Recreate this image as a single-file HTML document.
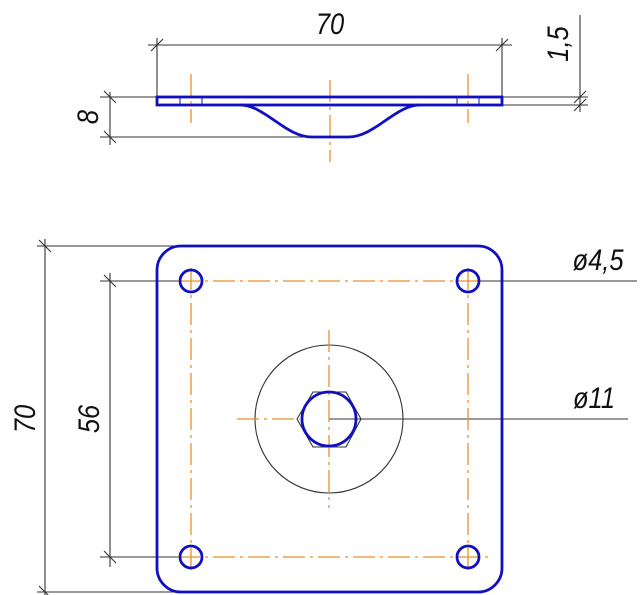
<!DOCTYPE html>
<html><head><meta charset="utf-8"><style>html,body{margin:0;padding:0;background:#fff}svg{display:block}text{font-family:"Liberation Sans",sans-serif;font-style:italic;font-size:30px;fill:#111}</style></head>
<body>
<svg width="640" height="595" viewBox="0 0 640 595" xmlns="http://www.w3.org/2000/svg">
<g stroke="#333" stroke-width="1.1" fill="none">
 <line x1="148" y1="45" x2="512" y2="45"/>
 <line x1="157" y1="38" x2="157" y2="97"/>
 <line x1="502" y1="38" x2="502" y2="97"/>
 <line x1="151" y1="51" x2="163" y2="39"/><line x1="496" y1="51" x2="508" y2="39"/>
 <line x1="580" y1="15" x2="580" y2="112"/>
 <line x1="503" y1="97" x2="588" y2="97"/><line x1="503" y1="105" x2="588" y2="105"/>
 <line x1="574" y1="103" x2="586" y2="91"/><line x1="574" y1="111" x2="586" y2="99"/>
 <line x1="110" y1="92" x2="110" y2="145"/>
 <line x1="100" y1="97" x2="157" y2="97"/><line x1="100" y1="137" x2="330" y2="137"/>
 <line x1="104" y1="91" x2="116" y2="103"/><line x1="104" y1="131" x2="116" y2="143"/>
 <line x1="45" y1="239" x2="45" y2="595"/>
 <line x1="37" y1="246" x2="185" y2="246"/><line x1="37" y1="592" x2="185" y2="592"/>
 <line x1="39" y1="240" x2="51" y2="252"/><line x1="39" y1="586" x2="51" y2="598"/>
 <line x1="110" y1="273" x2="110" y2="567"/>
 <line x1="100" y1="281" x2="180" y2="281"/><line x1="100" y1="557" x2="180" y2="557"/>
 <line x1="104" y1="275" x2="116" y2="287"/><line x1="104" y1="551" x2="116" y2="563"/>
 <line x1="479" y1="281" x2="637" y2="281"/>
 <line x1="329" y1="419" x2="628" y2="419"/>
 <circle cx="329" cy="419" r="74"/>
 <polygon points="297,419 313,392 346,392 361,419 346,447 313,447"/>
</g>
<g stroke="#e8922a" stroke-width="1.3" fill="none" stroke-dasharray="22,5,3,5">
 <line x1="191" y1="74" x2="191" y2="123"/><line x1="468" y1="74" x2="468" y2="123"/>
 <line x1="330" y1="80" x2="330" y2="162"/>
 <line x1="191" y1="268" x2="191" y2="575"/><line x1="468" y1="268" x2="468" y2="575"/>
 <line x1="178" y1="281" x2="482" y2="281"/><line x1="178" y1="557" x2="488" y2="557"/>
 <line x1="329" y1="330" x2="329" y2="508"/><line x1="237" y1="419" x2="300" y2="419"/>
</g>
<g stroke="#1010c0" stroke-width="2.8" fill="none">
 <rect x="157" y="97" width="345" height="8"/>
 <path d="M240 105 C265 105 285 137 312 137 L348 137 C375 137 395 105 420 105"/>
 <rect x="157" y="246" width="345" height="346" rx="24"/>
 <circle cx="191" cy="281" r="11"/><circle cx="468" cy="281" r="11"/>
 <circle cx="191" cy="557" r="11"/><circle cx="468" cy="557" r="11"/>
 <circle cx="329" cy="419" r="27"/>
</g>
<g stroke="#1010c0" stroke-width="1"><line x1="180" y1="97" x2="180" y2="105"/><line x1="202" y1="97" x2="202" y2="105"/><line x1="457" y1="97" x2="457" y2="105"/><line x1="479" y1="97" x2="479" y2="105"/></g>
<text transform="translate(330,34) scale(0.85,1)" text-anchor="middle">70</text>
<text transform="translate(568,44) rotate(-90) scale(0.85,1)" text-anchor="middle">1,5</text>
<text transform="translate(98,117) rotate(-90) scale(0.85,1)" text-anchor="middle">8</text>
<text transform="translate(35,419) rotate(-90) scale(0.85,1)" text-anchor="middle">70</text>
<text transform="translate(99,419) rotate(-90) scale(0.85,1)" text-anchor="middle">56</text>
<text transform="translate(598,270) scale(0.85,1)" text-anchor="middle">ø4,5</text>
<text transform="translate(594,408) scale(0.85,1)" text-anchor="middle">ø11</text>
</svg>
</body></html>
